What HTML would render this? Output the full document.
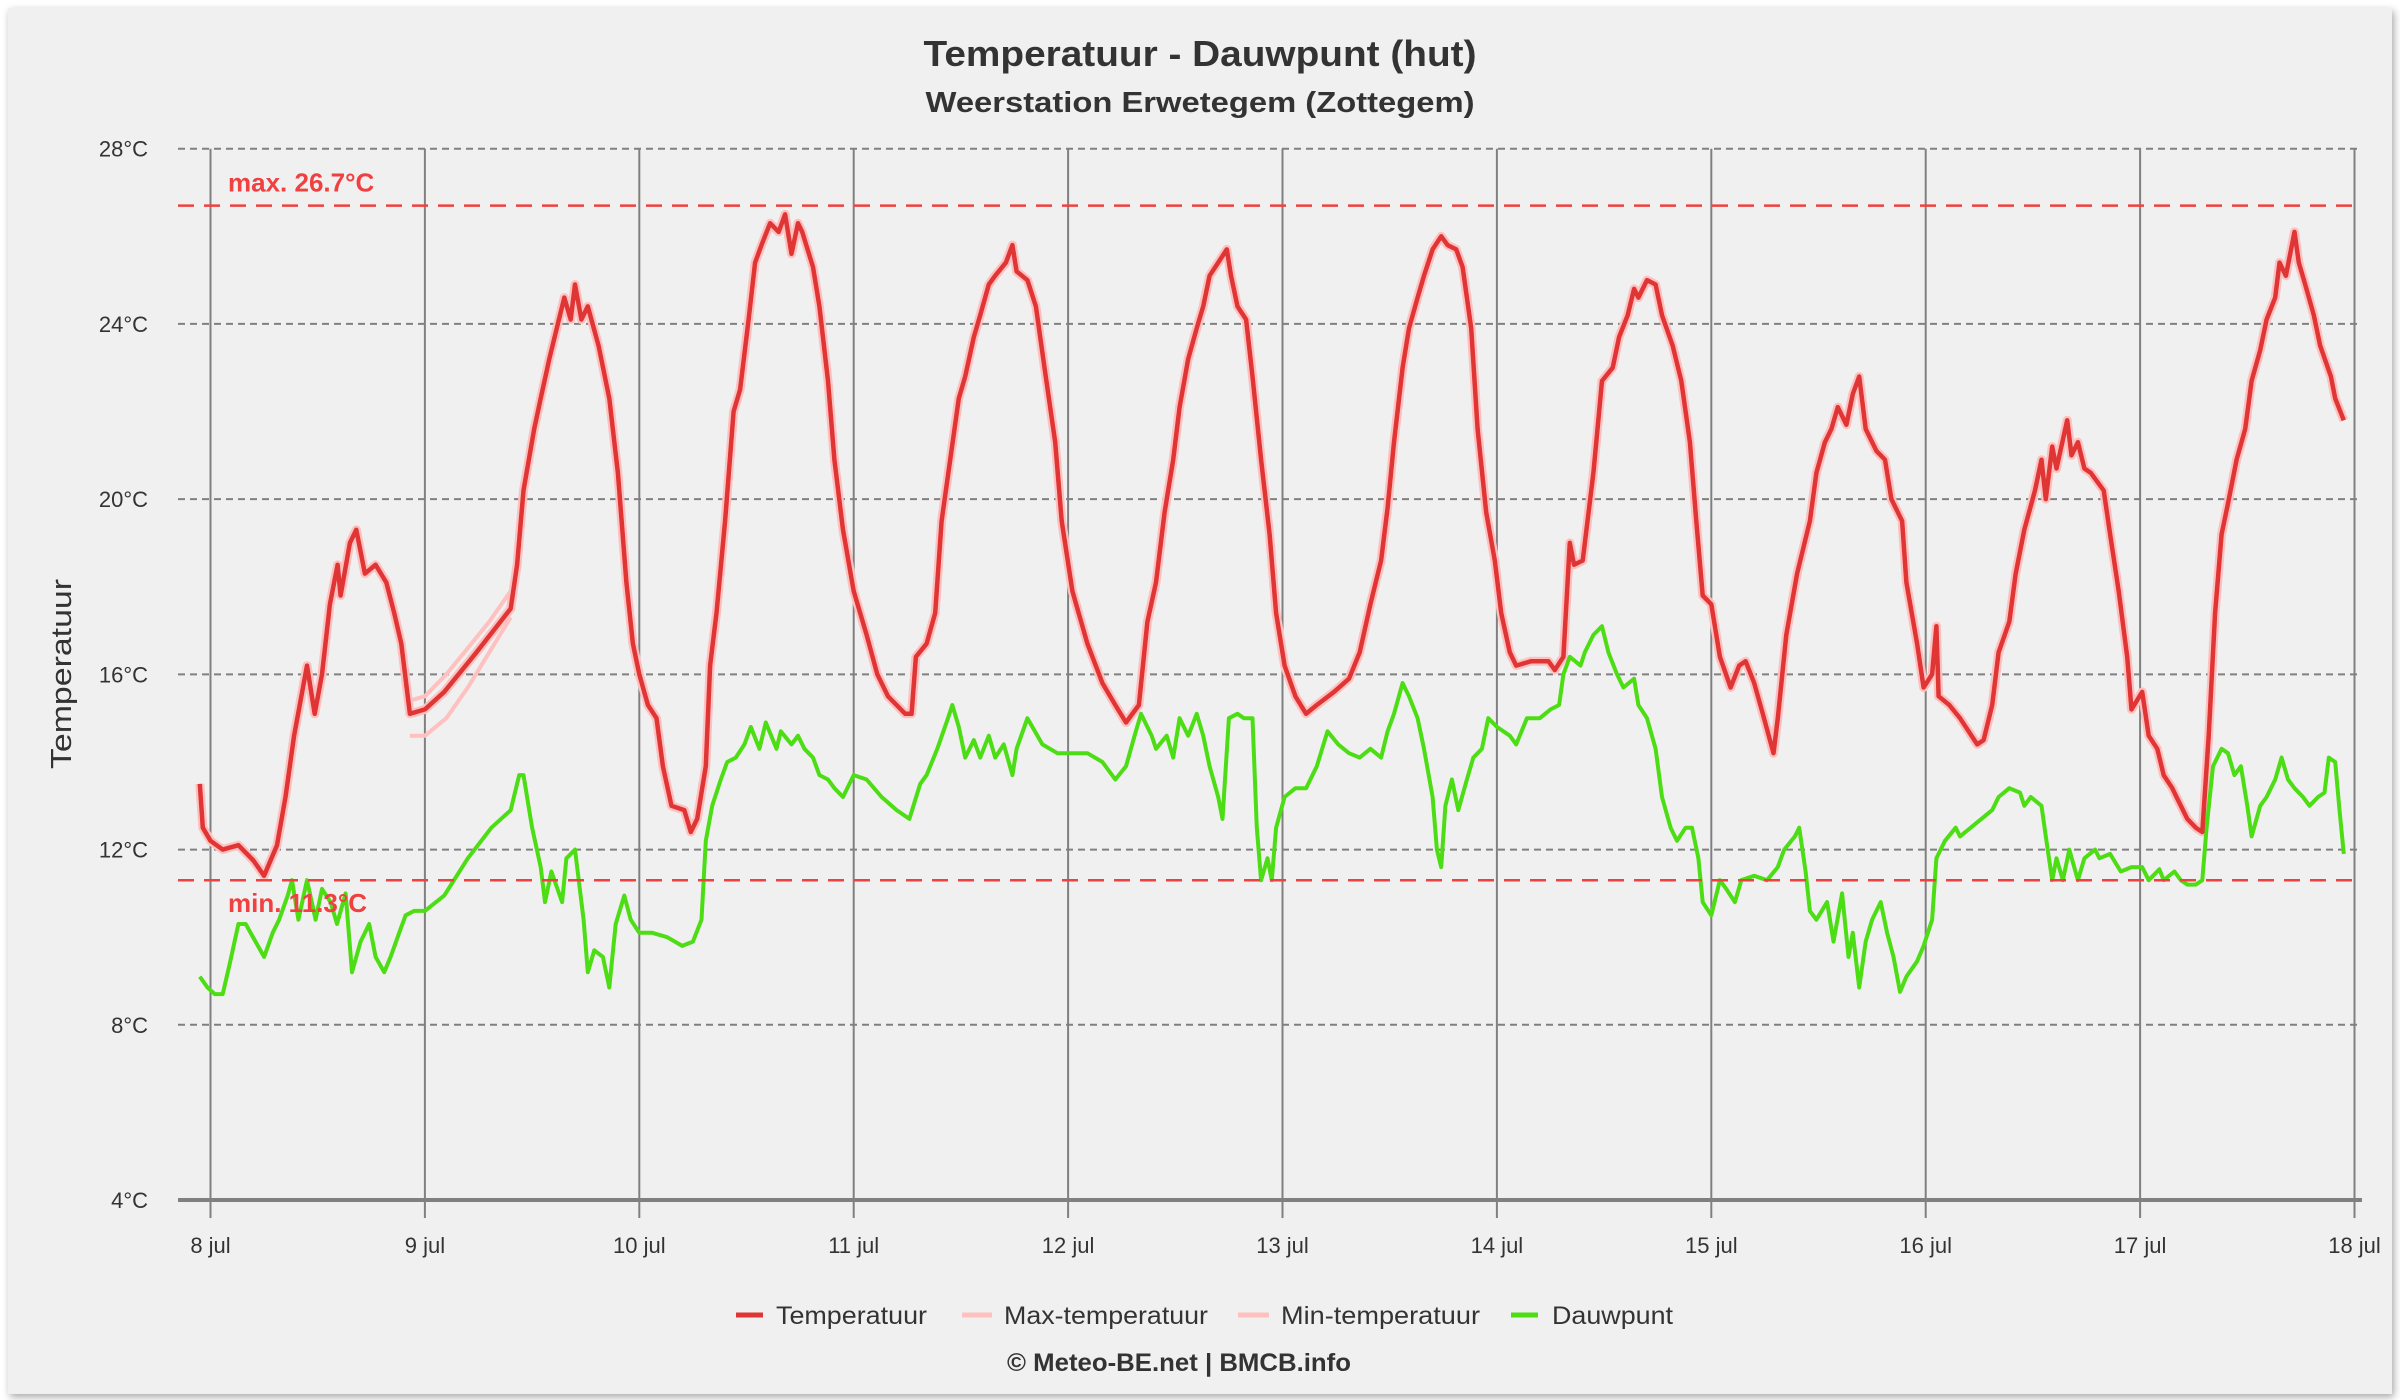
<!DOCTYPE html>
<html><head><meta charset="utf-8"><style>
html,body{margin:0;padding:0;background:#fff;}
svg{display:block;font-family:"Liberation Sans",sans-serif;}
</style></head><body>
<svg id="chart" width="2400" height="1400" viewBox="0 0 2400 1400" xmlns="http://www.w3.org/2000/svg">
<defs><filter id="sh" x="-2%" y="-2%" width="104%" height="104%"><feDropShadow dx="2" dy="3" stdDeviation="4" flood-color="#000" flood-opacity="0.35"/></filter></defs>
<rect x="8" y="8" width="2384" height="1386" fill="#f0f0f0" filter="url(#sh)"/>
<text x="1200" y="66" text-anchor="middle" font-size="36" font-weight="bold" fill="#333" textLength="553" lengthAdjust="spacingAndGlyphs">Temperatuur - Dauwpunt (hut)</text>
<text x="1200" y="112" text-anchor="middle" font-size="29" font-weight="bold" fill="#333" textLength="549" lengthAdjust="spacingAndGlyphs">Weerstation Erwetegem (Zottegem)</text>
<text transform="translate(71,674) rotate(-90)" text-anchor="middle" font-size="29" fill="#333" textLength="190" lengthAdjust="spacingAndGlyphs">Temperatuur</text>
<g id="grid"></g>
<g id="series"></g>
<g id="annot"></g>
<g>
<g><line x1="736" y1="1315" x2="763" y2="1315" stroke="#e03535" stroke-width="5"/><text x="776" y="1324" font-size="25" fill="#333" textLength="151" lengthAdjust="spacingAndGlyphs">Temperatuur</text></g>
<g><line x1="962" y1="1315" x2="992" y2="1315" stroke="#ffc0c0" stroke-width="5"/><text x="1004" y="1324" font-size="25" fill="#333" textLength="204" lengthAdjust="spacingAndGlyphs">Max-temperatuur</text></g>
<g><line x1="1238" y1="1315" x2="1269" y2="1315" stroke="#ffc0c0" stroke-width="5"/><text x="1281" y="1324" font-size="25" fill="#333" textLength="199" lengthAdjust="spacingAndGlyphs">Min-temperatuur</text></g>
<g><line x1="1511" y1="1315" x2="1538" y2="1315" stroke="#4cdd14" stroke-width="5"/><text x="1552" y="1324" font-size="25" fill="#333" textLength="121" lengthAdjust="spacingAndGlyphs">Dauwpunt</text></g>
</g>
<text x="1179" y="1371" text-anchor="middle" font-size="25" font-weight="bold" fill="#333" textLength="344" lengthAdjust="spacingAndGlyphs">© Meteo-BE.net | BMCB.info</text>
</svg>
<script>
const yTicks = [4, 8, 12, 16, 20, 24, 28];
const dayLabels = ["8 jul","9 jul","10 jul","11 jul","12 jul","13 jul","14 jul","15 jul","16 jul","17 jul","18 jul"];
const maxValue = 26.7;
const minValue = 11.3;
const tempTimes = [-0.05,-0.036,0,0.057,0.13,0.2,0.25,0.31,0.35,0.39,0.45,0.486,0.52,0.557,0.593,0.607,0.65,0.68,0.72,0.77,0.82,0.857,0.89,0.93,1.0,1.09,1.24,1.4,1.43,1.46,1.51,1.54,1.58,1.61,1.65,1.68,1.7,1.73,1.76,1.81,1.86,1.9,1.94,1.97,2.0,2.04,2.08,2.11,2.15,2.21,2.24,2.27,2.31,2.33,2.36,2.4,2.44,2.47,2.51,2.54,2.57,2.61,2.65,2.68,2.71,2.74,2.76,2.81,2.84,2.88,2.91,2.95,3.0,3.06,3.11,3.16,3.24,3.27,3.29,3.34,3.38,3.41,3.45,3.49,3.52,3.56,3.59,3.63,3.66,3.71,3.74,3.76,3.81,3.85,3.89,3.94,3.97,4.02,4.09,4.16,4.22,4.27,4.33,4.37,4.41,4.45,4.49,4.52,4.56,4.6,4.63,4.66,4.7,4.74,4.76,4.79,4.83,4.86,4.9,4.94,4.97,5.01,5.06,5.11,5.16,5.24,5.31,5.36,5.41,5.46,5.49,5.52,5.56,5.59,5.63,5.66,5.7,5.74,5.77,5.81,5.84,5.88,5.91,5.95,5.99,6.02,6.06,6.09,6.16,6.24,6.27,6.31,6.34,6.36,6.4,6.45,6.49,6.54,6.57,6.61,6.64,6.66,6.7,6.74,6.77,6.82,6.86,6.9,6.93,6.96,7.0,7.04,7.09,7.13,7.16,7.2,7.24,7.29,7.31,7.35,7.4,7.46,7.49,7.53,7.56,7.59,7.63,7.66,7.69,7.72,7.77,7.81,7.84,7.89,7.91,7.96,7.99,8.03,8.05,8.06,8.11,8.16,8.24,8.27,8.31,8.34,8.39,8.42,8.46,8.51,8.54,8.56,8.59,8.61,8.66,8.68,8.71,8.74,8.77,8.83,8.86,8.9,8.94,8.96,9.01,9.04,9.08,9.11,9.15,9.17,9.22,9.26,9.29,9.32,9.35,9.38,9.41,9.45,9.49,9.52,9.56,9.59,9.63,9.65,9.68,9.7,9.72,9.74,9.77,9.81,9.84,9.89,9.91,9.95];
const tempValues = [13.5,12.5,12.2,12.0,12.1,11.75,11.4,12.1,13.2,14.6,16.2,15.1,16.0,17.6,18.5,17.8,19.0,19.3,18.3,18.5,18.1,17.4,16.7,15.1,15.2,15.6,16.5,17.5,18.5,20.2,21.6,22.3,23.2,23.8,24.6,24.1,24.9,24.1,24.4,23.5,22.3,20.6,18.1,16.7,16.0,15.3,15.0,13.9,13.0,12.9,12.4,12.7,13.9,16.2,17.4,19.5,22.0,22.5,24.1,25.4,25.8,26.3,26.1,26.5,25.6,26.3,26.1,25.3,24.4,22.7,20.9,19.3,17.9,16.9,16.0,15.5,15.1,15.1,16.4,16.7,17.4,19.5,20.9,22.3,22.8,23.7,24.2,24.9,25.1,25.4,25.8,25.2,25.0,24.4,23.0,21.3,19.5,17.9,16.7,15.8,15.3,14.9,15.3,17.2,18.1,19.7,20.9,22.1,23.2,23.9,24.4,25.1,25.4,25.7,25.1,24.4,24.1,22.8,20.9,19.2,17.4,16.2,15.5,15.1,15.3,15.6,15.9,16.5,17.6,18.6,19.8,21.3,23.0,23.9,24.6,25.1,25.7,26.0,25.8,25.7,25.3,23.9,21.6,19.7,18.6,17.4,16.5,16.2,16.3,16.3,16.1,16.4,19.0,18.5,18.6,20.6,22.7,23.0,23.7,24.2,24.8,24.6,25.0,24.9,24.2,23.5,22.7,21.3,19.5,17.8,17.6,16.4,15.7,16.2,16.3,15.8,15.1,14.2,15.0,16.9,18.3,19.5,20.6,21.3,21.6,22.1,21.7,22.4,22.8,21.6,21.1,20.9,20.0,19.5,18.1,16.7,15.7,16.0,17.1,15.5,15.3,15.0,14.4,14.5,15.3,16.5,17.2,18.3,19.3,20.2,20.9,20.0,21.2,20.7,21.8,21.0,21.3,20.7,20.6,20.2,19.2,17.9,16.4,15.2,15.6,14.6,14.3,13.7,13.4,13.2,12.7,12.5,12.4,14.6,17.4,19.2,19.9,20.9,21.6,22.7,23.4,24.1,24.6,25.4,25.1,25.6,26.1,25.4,24.9,24.2,23.5,22.8,22.3,21.8];
const maxTimes = [0.93,1.0,1.1,1.2,1.3,1.4];
const maxValues = [15.4,15.5,16.0,16.6,17.2,17.9];
const minTimes = [0.93,1.0,1.1,1.2,1.3,1.4];
const minValues = [14.6,14.6,15.0,15.7,16.5,17.3];
const dewTimes = [-0.05,-0.014,0.02,0.057,0.09,0.13,0.164,0.21,0.25,0.29,0.32,0.36,0.38,0.41,0.45,0.49,0.52,0.56,0.59,0.63,0.66,0.7,0.74,0.77,0.81,0.84,0.88,0.91,0.95,1.0,1.09,1.2,1.31,1.4,1.44,1.46,1.5,1.54,1.56,1.59,1.64,1.66,1.7,1.74,1.76,1.79,1.83,1.86,1.89,1.93,1.96,2.0,2.06,2.13,2.2,2.25,2.29,2.31,2.34,2.38,2.41,2.45,2.49,2.52,2.56,2.59,2.64,2.66,2.71,2.74,2.77,2.81,2.84,2.88,2.91,2.95,3.0,3.06,3.13,3.2,3.26,3.31,3.34,3.39,3.44,3.46,3.49,3.52,3.56,3.59,3.63,3.66,3.7,3.74,3.76,3.81,3.88,3.95,4.02,4.09,4.16,4.22,4.27,4.31,4.34,4.39,4.41,4.46,4.49,4.52,4.56,4.6,4.63,4.66,4.7,4.72,4.75,4.79,4.82,4.86,4.88,4.9,4.93,4.95,4.97,5.01,5.06,5.11,5.16,5.21,5.26,5.31,5.36,5.41,5.46,5.49,5.52,5.56,5.59,5.63,5.66,5.7,5.72,5.74,5.76,5.79,5.82,5.86,5.89,5.93,5.96,6.0,6.06,6.09,6.14,6.2,6.25,6.29,6.31,6.34,6.39,6.41,6.45,6.49,6.52,6.56,6.59,6.64,6.66,6.7,6.74,6.77,6.81,6.84,6.88,6.91,6.94,6.96,7.0,7.04,7.07,7.11,7.14,7.2,7.26,7.31,7.34,7.39,7.41,7.44,7.46,7.49,7.54,7.57,7.61,7.64,7.66,7.69,7.72,7.75,7.79,7.82,7.85,7.88,7.91,7.96,7.99,8.03,8.05,8.09,8.14,8.16,8.21,8.26,8.31,8.34,8.39,8.44,8.46,8.49,8.54,8.56,8.59,8.61,8.64,8.67,8.71,8.74,8.79,8.81,8.86,8.91,8.96,9.01,9.04,9.09,9.11,9.16,9.19,9.22,9.26,9.29,9.31,9.34,9.38,9.41,9.44,9.47,9.5,9.52,9.56,9.59,9.63,9.66,9.69,9.72,9.76,9.79,9.83,9.86,9.88,9.91,9.93,9.95];
const dewValues = [9.1,8.85,8.7,8.7,9.4,10.3,10.3,9.9,9.55,10.1,10.4,10.95,11.3,10.4,11.3,10.4,11.1,10.8,10.3,11.0,9.2,9.9,10.3,9.55,9.2,9.55,10.1,10.5,10.6,10.6,10.95,11.8,12.5,12.9,13.7,13.7,12.5,11.6,10.8,11.5,10.8,11.8,12.0,10.4,9.2,9.7,9.55,8.85,10.3,10.95,10.4,10.1,10.1,10.0,9.8,9.9,10.4,12.2,13.0,13.6,14.0,14.1,14.4,14.8,14.3,14.9,14.3,14.7,14.4,14.6,14.3,14.1,13.7,13.6,13.4,13.2,13.7,13.6,13.2,12.9,12.7,13.5,13.7,14.3,15.0,15.3,14.8,14.1,14.5,14.1,14.6,14.1,14.4,13.7,14.3,15.0,14.4,14.2,14.2,14.2,14.0,13.6,13.9,14.6,15.1,14.6,14.3,14.6,14.1,15.0,14.6,15.1,14.6,13.9,13.2,12.7,15.0,15.1,15.0,15.0,12.5,11.3,11.8,11.3,12.5,13.2,13.4,13.4,13.9,14.7,14.4,14.2,14.1,14.3,14.1,14.7,15.1,15.8,15.5,15.0,14.3,13.2,12.0,11.6,13.0,13.6,12.9,13.6,14.1,14.3,15.0,14.8,14.6,14.4,15.0,15.0,15.2,15.3,16.0,16.4,16.2,16.5,16.9,17.1,16.5,16.0,15.7,15.9,15.3,15.0,14.3,13.2,12.5,12.2,12.5,12.5,11.8,10.8,10.5,11.3,11.1,10.8,11.3,11.4,11.3,11.6,12.0,12.3,12.5,11.5,10.6,10.4,10.8,9.9,11.0,9.55,10.1,8.85,9.9,10.4,10.8,10.1,9.55,8.75,9.1,9.45,9.8,10.4,11.8,12.2,12.5,12.3,12.5,12.7,12.9,13.2,13.4,13.3,13.0,13.2,13.0,12.3,11.3,11.8,11.3,12.0,11.3,11.8,12.0,11.8,11.9,11.5,11.6,11.6,11.3,11.55,11.3,11.5,11.3,11.2,11.2,11.3,12.5,13.9,14.3,14.2,13.7,13.9,13.0,12.3,13.0,13.2,13.6,14.1,13.6,13.4,13.2,13.0,13.2,13.3,14.1,14.0,12.9,11.9];

const NS = "http://www.w3.org/2000/svg";
const plotLeft = 178, plotRight = 2362;
function xScale(d){ return 210.5 + d * 214.4; }
function yScale(t){ return 148.7 + (28 - t) * (1200 - 148.7) / 24; }
function mk(tag, attrs, parent){ const e = document.createElementNS(NS, tag); for (const k in attrs) e.setAttribute(k, attrs[k]); parent.appendChild(e); return e; }

const grid = document.getElementById('grid');
yTicks.forEach(function(t){
  if (t !== 4) {
    const gl = mk('line', {x1: plotLeft, x2: plotRight, y1: yScale(t), y2: yScale(t), stroke: '#808080', 'stroke-width': 2, 'stroke-dasharray': '7,5'}, grid);
    
    
  }
  const tl = mk('text', {x: 148, y: yScale(t) + 8, 'text-anchor': 'end', 'font-size': 22, fill: '#333'}, grid);
  tl.textContent = t + '°C';
  
  
});
dayLabels.forEach(function(lab, i){
  const vx = xScale(i);
  const vl = mk('line', {x1: vx, x2: vx, y1: yScale(28), y2: 1218, stroke: '#808080', 'stroke-width': 2}, grid);
  
  
  const xl = mk('text', {x: vx, y: 1253, 'text-anchor': 'middle', 'font-size': 22, fill: '#333'}, grid);
  xl.textContent = lab;
  
  
});
const ax = mk('line', {x1: plotLeft, x2: plotRight, y1: yScale(4), y2: yScale(4), stroke: '#808080', 'stroke-width': 4}, grid);



function pts(ts, vs){ return ts.map(function(t, i){ return xScale(t).toFixed(1) + ',' + yScale(vs[i]).toFixed(1); }).join(' '); }
const series = document.getElementById('series');
const halo = mk('polyline', {points: pts(tempTimes, tempValues), fill: 'none', stroke: '#ffc0c0', 'stroke-width': 9, 'stroke-linejoin': 'round'}, series);


const mx = mk('polyline', {points: pts(maxTimes, maxValues), fill: 'none', stroke: '#ffc0c0', 'stroke-width': 4}, series);


const mn = mk('polyline', {points: pts(minTimes, minValues), fill: 'none', stroke: '#ffc0c0', 'stroke-width': 4}, series);


const dw = mk('polyline', {points: pts(dewTimes, dewValues), fill: 'none', stroke: '#4cdd14', 'stroke-width': 4, 'stroke-linejoin': 'round'}, series);


const tp = mk('polyline', {points: pts(tempTimes, tempValues), fill: 'none', stroke: '#e03535', 'stroke-width': 4.5, 'stroke-linejoin': 'round'}, series);



const an = document.getElementById('annot');
const ml = mk('line', {x1: plotLeft, x2: plotRight, y1: yScale(maxValue), y2: yScale(maxValue), stroke: '#f04040', 'stroke-width': 2.5, 'stroke-dasharray': '16,10'}, an);


const mt = mk('text', {x: 228, y: yScale(maxValue) - 14, 'font-size': 26, 'font-weight': 'bold', fill: '#f04040'}, an);
mt.textContent = 'max. ' + maxValue + '°C';


const nl = mk('line', {x1: plotLeft, x2: plotRight, y1: yScale(minValue), y2: yScale(minValue), stroke: '#f04040', 'stroke-width': 2.5, 'stroke-dasharray': '16,10'}, an);


const nt = mk('text', {x: 228, y: yScale(minValue) + 32, 'font-size': 26, 'font-weight': 'bold', fill: '#f04040'}, an);
nt.textContent = 'min. ' + minValue + '°C';


</script>
</body></html>
